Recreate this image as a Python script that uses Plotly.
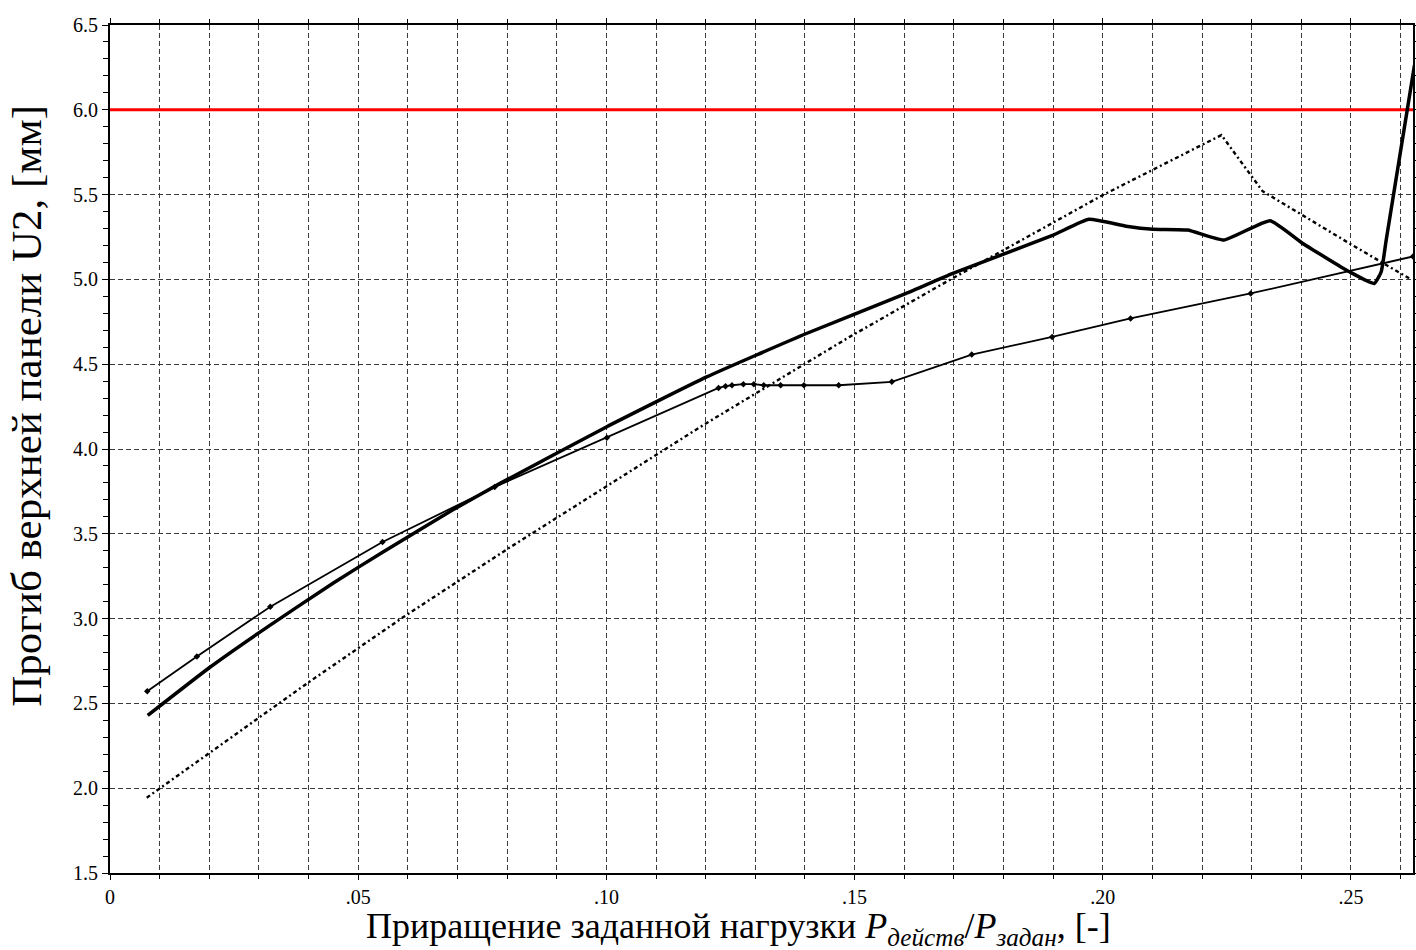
import plotly.graph_objects as go

# ---- data ----
x_thick = [0.0076, 0.0200, 0.0322, 0.0450, 0.0550, 0.0690, 0.0785, 0.1000, 0.1202,
           0.1403, 0.1604, 0.1698, 0.1900, 0.1972, 0.2047, 0.2101, 0.2171, 0.2244,
           0.2337, 0.2403, 0.2497, 0.2547, 0.2561, 0.2571, 0.2628]
y_thick = [2.429, 2.710, 2.960, 3.210, 3.393, 3.640, 3.796, 4.130, 4.425,
           4.681, 4.917, 5.035, 5.261, 5.354, 5.314, 5.296, 5.291, 5.232,
           5.346, 5.212, 5.045, 4.976, 5.045, 5.232, 6.264]

x_thin = [0.0075, 0.0175, 0.0323, 0.0549, 0.0775, 0.1001, 0.1226, 0.1240, 0.1253,
          0.1276, 0.1297, 0.1317, 0.1351, 0.1398, 0.1468, 0.1575, 0.1736, 0.1898,
          0.2056, 0.2298, 0.2625]
y_thin = [2.571, 2.777, 3.070, 3.452, 3.776, 4.067, 4.360, 4.370, 4.376,
          4.382, 4.382, 4.376, 4.376, 4.376, 4.376, 4.396, 4.557, 4.661,
          4.770, 4.917, 5.135]

x_dot = [0.0074, 0.0396, 0.0591, 0.0802, 0.1198, 0.1490, 0.1685, 0.2000, 0.2239,
         0.2322, 0.2497, 0.2621]
y_dot = [1.944, 2.616, 3.009, 3.413, 4.146, 4.661, 4.986, 5.497, 5.851,
         5.520, 5.212, 5.000]

x_limit = [0.0, 0.2625]
y_limit = [6.0, 6.0]

x_tick_vals = [0, 0.05, 0.10, 0.15, 0.20, 0.25]
x_tick_text = ["0", ".05", ".10", ".15", ".20", ".25"]
y_tick_vals = [1.5, 2.0, 2.5, 3.0, 3.5, 4.0, 4.5, 5.0, 5.5, 6.0, 6.5]
y_tick_text = ["1.5", "2.0", "2.5", "3.0", "3.5", "4.0", "4.5", "5.0", "5.5", "6.0", "6.5"]

x_title = "Приращение заданной нагрузки <i>P</i><sub><i>действ</i></sub>/<i>P</i><sub><i>задан</i></sub>, [-]"
y_title = "Прогиб верхней панели U2, [мм]"

FONT = "Liberation Serif"
GRID = "#3a3a3a"
TICKFONT = dict(family=FONT, size=20, color="black")

fig = go.Figure()
fig.add_trace(go.Scatter(x=x_limit, y=y_limit, mode="lines",
                         line=dict(color="#ff0000", width=3), showlegend=False))
fig.add_trace(go.Scatter(x=x_dot, y=y_dot, mode="lines",
                         line=dict(color="black", width=2.4, dash="4px,3px,2px,3px"),
                         showlegend=False))
fig.add_trace(go.Scatter(x=x_thin, y=y_thin, mode="lines+markers",
                         line=dict(color="black", width=1.8),
                         marker=dict(symbol="diamond", size=5, color="black"),
                         showlegend=False))
fig.add_trace(go.Scatter(x=x_thick, y=y_thick, mode="lines",
                         line=dict(color="black", width=3.5, shape="spline", smoothing=0.4),
                         showlegend=False))

fig.update_layout(
    template="none",
    width=1416, height=950,
    margin=dict(l=110, r=3, t=25, b=77),
    paper_bgcolor="white", plot_bgcolor="white",
    font=dict(family=FONT, size=20, color="black"),
    annotations=[
        dict(text=x_title, xref="paper", yref="paper", x=0.482, y=-0.066,
             xanchor="center", yanchor="middle", showarrow=False,
             font=dict(family=FONT, size=36, color="black")),
        dict(text=y_title, xref="paper", yref="paper", x=-0.064, y=0.5505,
             xanchor="center", yanchor="middle", textangle=-90, showarrow=False,
             font=dict(family=FONT, size=43, color="black")),
    ],
)
fig.update_xaxes(range=[0, 0.2625], tickmode="array", tickvals=x_tick_vals,
                 ticktext=x_tick_text, tickfont=TICKFONT,
                 showgrid=True, gridcolor=GRID, gridwidth=1, griddash="5px,3px",
                 minor=dict(dtick=0.01, tick0=0, showgrid=True, gridcolor=GRID,
                            gridwidth=1, griddash="5px,3px", ticks="outside",
                            ticklen=4, tickcolor="black"),
                 ticks="outside", ticklen=5, tickcolor="black",
                 showline=True, linecolor="black", linewidth=2, mirror="allticks",
                 zeroline=False)
fig.update_yaxes(range=[1.5, 6.5], tickmode="array", tickvals=y_tick_vals,
                 ticktext=y_tick_text, tickfont=TICKFONT,
                 showgrid=True, gridcolor=GRID, gridwidth=1, griddash="5px,3px",
                 minor=dict(dtick=0.1, tick0=1.5, showgrid=False, ticks="outside",
                            ticklen=5, tickcolor="black"),
                 ticks="outside", ticklen=6, tickcolor="black",
                 showline=True, linecolor="black", linewidth=2, mirror="allticks",
                 zeroline=False)

fig.write_html("out.html")
